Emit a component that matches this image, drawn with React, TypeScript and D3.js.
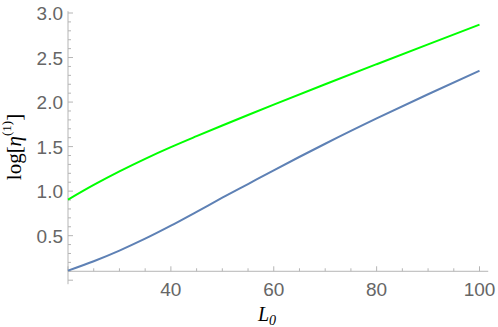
import React from 'react';
import * as d3 from 'd3';

// L0 grid and the two curves
const L0 = [20, 25, 30, 35, 40, 45, 50, 55, 60, 70, 80, 90, 100];
const greenSeries = [0.905, 1.07, 1.222, 1.363, 1.494, 1.617, 1.737, 1.855, 1.971, 2.2, 2.425, 2.648, 2.87];
const blueSeries = [0.108, 0.213, 0.333, 0.466, 0.612, 0.768, 0.926, 1.08, 1.234, 1.532, 1.816, 2.088, 2.352];

const xTicks = [40, 60, 80, 100];
const yTicks = [0.5, 1.0, 1.5, 2.0, 2.5, 3.0];
const axisOriginY = 0.1;

const W = 498, H = 327;

const App = () => {
  const x = d3.scaleLinear().domain([20, 100]).range([68, 479.5]);
  const y = d3.scaleLinear().domain([0, 3]).range([280.2, 13]);

  const line = d3.line<[number, number]>()
    .x(d => x(d[0]))
    .y(d => y(d[1]))
    .curve(d3.curveMonotoneX);

  const green = line(L0.map((l, i) => [l, greenSeries[i]]));
  const blue = line(L0.map((l, i) => [l, blueSeries[i]]));

  const axisY = y(axisOriginY);
  const xMinor = d3.range(20, 101, 5);
  const yMinor = d3.range(0, 31).map(i => i / 10);
  const axisColor = '#b5b5b5';
  const tickText = '#666666';

  return (
    <svg width={W} height={H} style={{ position: 'absolute', left: 0, top: 0 }}
      fontFamily="'Liberation Sans', Arial, sans-serif">
      <rect width={W} height={H} fill="#fff" />

      {/* axes */}
      <line x1={x(20)} x2={x(101.7)} y1={axisY} y2={axisY} stroke={axisColor} strokeWidth={1} />
      <line x1={x(20)} x2={x(20)} y1={y(-0.045)} y2={y(3.02)} stroke={axisColor} strokeWidth={1} />

      {xMinor.map(v => {
        const major = v % 20 === 0;
        return <line key={'xt' + v} x1={x(v)} x2={x(v)} y1={axisY} y2={axisY - (major ? 5 : 3)}
          stroke={axisColor} strokeWidth={1} />;
      })}
      {yMinor.map(v => {
        const major = Math.abs(v * 2 - Math.round(v * 2)) < 1e-6;
        return <line key={'yt' + v} x1={x(20)} x2={x(20) + (major ? 5 : 3)} y1={y(v)} y2={y(v)}
          stroke={axisColor} strokeWidth={1} />;
      })}

      {xTicks.map(v => (
        <text key={'xl' + v} x={x(v)} y={296} textAnchor="middle" fontSize={19} fill={tickText}>{v}</text>
      ))}
      {yTicks.map(v => (
        <text key={'yl' + v} x={63} y={y(v) + 7} textAnchor="end" fontSize={19} fill={tickText}>{v.toFixed(1)}</text>
      ))}

      {/* curves */}
      <path d={green ?? ''} fill="none" stroke="#00ff00" strokeWidth={2} />
      <path d={blue ?? ''} fill="none" stroke="#5e81b5" strokeWidth={2} />

      {/* axis labels */}
      <text x={267} y={321} textAnchor="middle" fontFamily="'Liberation Serif', 'Times New Roman', serif"
        fontSize={20} fill="#000">
        <tspan fontStyle="italic">L</tspan>
        <tspan fontStyle="italic" fontSize={14} dy={4}>0</tspan>
      </text>
      <text transform="translate(21,147) rotate(-90)" textAnchor="middle"
        fontFamily="'Liberation Serif', 'Times New Roman', serif" fontSize={21} fill="#000">
        <tspan>log[</tspan>
        <tspan fontStyle="italic">η</tspan>
        <tspan fontSize={13} dy={-10}>(1)</tspan>
        <tspan dy={10}>]</tspan>
      </text>
    </svg>
  );
};

export default App;
